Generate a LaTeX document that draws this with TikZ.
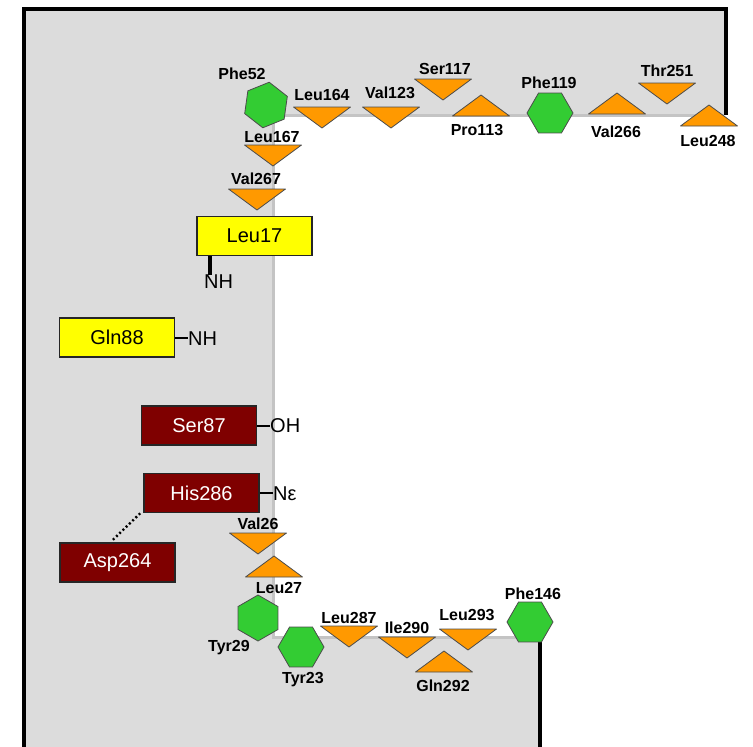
\documentclass[tikz,border=0pt]{standalone}
\usepackage{fontspec}
\setmainfont{Liberation Sans}
\usetikzlibrary{shapes.geometric}
\definecolor{bgray}{HTML}{DCDCDC}
\definecolor{edgegray}{HTML}{C4C4C4}
\definecolor{resorange}{HTML}{FF9900}
\definecolor{resgreen}{HTML}{33CC33}
\definecolor{resyellow}{HTML}{FFFF00}
\definecolor{resred}{HTML}{7F0000}
\begin{document}
\begin{tikzpicture}[x=1pt,y=-1pt,
  res/.style={font=\bfseries\fontsize{16}{18}\selectfont, anchor=base, inner sep=0pt},
  tri/.style={fill=resorange, draw=black!70, line width=0.8pt, line join=round},
  dtri/.pic={\path[tri] (-28.5,0) -- (28.5,0) -- (0,21) -- cycle;},
  utri/.pic={\path[tri] (-28.5,0) -- (28.5,0) -- (0,-21) -- cycle;},
  hex/.style={regular polygon, regular polygon sides=6, minimum size=46pt, inner sep=0pt,
              fill=resgreen, draw=black!70, line width=0.8pt},
  resbox/.style={rectangle, draw=black!85, line width=1.6pt, minimum width=115pt,
                 minimum height=39pt, inner sep=0pt, font=\fontsize{20}{22}\selectfont},
  ybox/.style={resbox, fill=resyellow},
  rbox/.style={resbox, fill=resred, text=white},
  grp/.style={font=\fontsize{20}{22}\selectfont, inner sep=0pt},
  bond/.style={line width=2pt},
  wall/.style={line width=4pt}
]
\useasboundingbox (0,0) rectangle (753,747);
% pocket
\fill[bgray] (24,9) -- (726,9) -- (726,115) -- (273,115) -- (273,637) -- (540,637) -- (540,747) -- (24,747) -- cycle;
\draw[edgegray, line width=3pt] (724,115) -- (273,115) -- (273,637) -- (540,637);
\draw[wall] (24,749) -- (24,9) -- (726,9) -- (726,115);
\draw[wall] (540,637) -- (540,749);

% down triangles
\pic at (322,107) {dtri}; \node[res] (lLeu164) at (322,100) {Leu164};
\pic at (391,107) {dtri}; \node[res] (lVal123) at (390,98) {Val123};
\pic at (443,79) {dtri};  \node[res] (lSer117) at (445,74) {Ser117};
\pic at (667,83) {dtri};  \node[res] (lThr251) at (667,76) {Thr251};
\pic at (273,145) {dtri}; \node[res] (lLeu167) at (272,142) {Leu167};
\pic at (257,189) {dtri}; \node[res] (lVal267) at (256,184) {Val267};
\pic at (258,533) {dtri}; \node[res] (lVal26) at (258,529) {Val26};
\pic at (349,626) {dtri}; \node[res] (lLeu287) at (349,623) {Leu287};
\pic at (407,637) {dtri}; \node[res] (lIle290) at (407,633) {Ile290};
\pic at (468,629) {dtri}; \node[res] (lLeu293) at (467,620) {Leu293};

% up triangles
\pic at (481,116) {utri}; \node[res] (lPro113) at (477,135) {Pro113};
\pic at (617,114) {utri}; \node[res] (lVal266) at (616,137) {Val266};
\pic at (709,126) {utri}; \node[res] (lLeu248) at (708,146) {Leu248};
\pic at (274,577) {utri}; \node[res] (lLeu27) at (279,593) {Leu27};
\pic at (444,672) {utri}; \node[res] (lGln292) at (443,691) {Gln292};

% hexagons
\node[hex, shape border rotate=22] (Phe52) at (266,105) {}; \node[res] (lPhe52) at (242,79) {Phe52};
\node[hex] (Phe119) at (550,113) {}; \node[res] (lPhe119) at (549,88) {Phe119};
\node[hex, shape border rotate=30] (Tyr29) at (258,618) {}; \node[res] (lTyr29) at (229,651) {Tyr29};
\node[hex] (Tyr23) at (301,647) {}; \node[res] (lTyr23) at (303,683) {Tyr23};
\node[hex] (Phe146) at (530,622) {}; \node[res] (lPhe146) at (533,599) {Phe146};

% boxes
\node[ybox] (Leu17) at (254.5,236) {Leu17};
\node[ybox] (Gln88) at (117,337.5) {Gln88};
\node[rbox] (Ser87) at (199,425.5) {Ser87};
\node[rbox] (His286) at (201.5,493) {His286};
\node[rbox] (Asp264) at (117.5,562.5) {Asp264};

% groups
\node[grp, anchor=base west] (nh1) at (204,288) {NH};
\node[grp, anchor=base west] (nh2) at (188,345) {NH};
\node[grp, anchor=base west] (oh) at (270,432) {OH};
\node[grp, anchor=base west] (ne) at (273,500) {Nε};

\draw[bond, line width=3.5pt] ([xshift=6pt]nh1.north west |- Leu17.south) -- ([xshift=6pt,yshift=-1pt]nh1.north west);
\draw[bond] (Gln88.east) -- (Gln88.east -| nh2.west);
\draw[bond] (Ser87.east) -- (Ser87.east -| oh.west);
\draw[bond] (His286.east) -- (His286.east -| ne.west);
\draw[line width=2.4pt, dash pattern=on 2pt off 2.5pt] ([xshift=-3pt]His286.south west) -- ([xshift=-5pt,yshift=2pt]Asp264.north);
\end{tikzpicture}
\end{document}
